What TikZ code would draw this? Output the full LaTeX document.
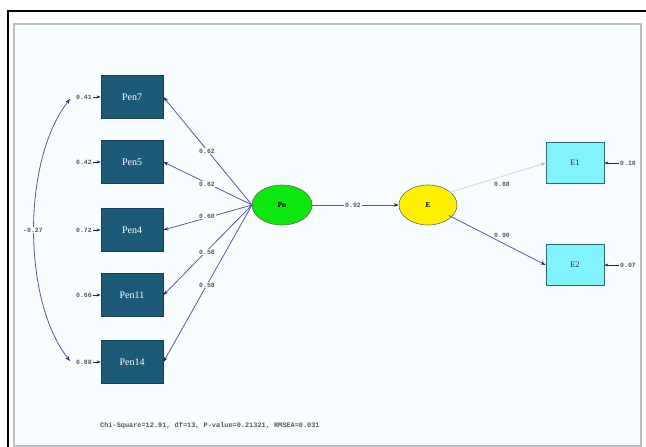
\documentclass[tikz,border=0pt]{standalone}
\usepackage{fontspec}
\setmainfont{Liberation Serif}
\newfontfamily\monof{Liberation Mono}
\usetikzlibrary{arrows.meta,shapes.geometric}
\definecolor{penfill}{HTML}{1D5A78}
\definecolor{penbord}{HTML}{143F57}
\definecolor{cyfill}{HTML}{80F4FA}
\definecolor{cybord}{HTML}{2F6878}
\definecolor{linec}{HTML}{5A5AA0}
\definecolor{tipc}{HTML}{1E1E6E}
\definecolor{lightl}{HTML}{E4D8DE}
\definecolor{bgc}{HTML}{F8FEFF}
\definecolor{framegray}{HTML}{B8C0C0}
\tikzset{
  penbox/.style={rectangle, draw=penbord, fill=penfill, line width=0.8pt, minimum width=62pt, minimum height=43pt, text=white, font=\fontsize{10}{11}\selectfont, inner sep=0pt},
  obsbox/.style={rectangle, draw=cybord, fill=cyfill, line width=0.8pt, minimum width=58pt, minimum height=41pt, text=black!80, font=\fontsize{8.5}{9}\selectfont, inner sep=0pt},
  latent/.style={ellipse, draw=black!60, line width=0.6pt, minimum width=60pt, minimum height=40pt, font=\bfseries\fontsize{7.5}{8}\selectfont, inner sep=0pt},
  numlab/.style={font=\monof\bfseries\fontsize{6.5}{7}\selectfont, text=black!65, inner sep=1pt},
  edgelab/.style={numlab, fill=bgc},
  path/.style={draw=linec, line width=0.8pt, -{Stealth[length=5pt,width=3.5pt,color=tipc]}},
  errarr/.style={draw=tipc, line width=0.9pt, -{Stealth[length=4pt,width=3pt]}},
}
\begin{document}
\begin{tikzpicture}[x=1pt,y=-1pt]
\useasboundingbox (0,0) rectangle (646,447);
\fill[white] (0,0) rectangle (646,447);
% frames
\fill[bgc] (14,24) rectangle (641,446);
\draw[framegray, line width=1.2pt] (14,446) -- (14,24) -- (641,24) -- (641,446) -- cycle;
\draw[black, line width=1.5pt] (8,447) -- (8,11) -- (646,11);

% indicator boxes
\node[penbox] (p7)  at (132,97)  {Pen7};
\node[penbox] (p5)  at (132,162) {Pen5};
\node[penbox] (p4)  at (132,230) {Pen4};
\node[penbox] (p11) at (132,295) {Pen11};
\node[penbox] (p14) at (132,362) {Pen14};

\node[latent, fill=green!90!black!95, minimum width=60pt] (pn) at (282,205) {Pn};
\node[latent, fill=yellow, minimum width=58pt] (e) at (428,205) {E};

\node[obsbox] (e1) at (575,163) {E1};
\node[obsbox] (e2) at (575,265) {E2};

% error labels left
\node[numlab] (r7)  at (84,97)  {0.41};
\node[numlab] (r5)  at (84,162) {0.42};
\node[numlab] (r4)  at (84,230) {0.72};
\node[numlab] (r11) at (84,295) {0.66};
\node[numlab] (r14) at (84,362) {0.88};
\foreach \a/\b in {r7/p7,r5/p5,r4/p4,r11/p11,r14/p14}
  \draw[errarr] (\a.east) -- (\b.west);

% error labels right
\node[numlab] (r1) at (628,163) {0.10};
\node[numlab] (r2) at (628,265) {0.07};
\draw[errarr] (r1.west) -- (e1.east);
\draw[errarr] (r2.west) -- (e2.east);

% covariance
\coordinate (c1) at (70,99);
\coordinate (c2) at (70,361);
\draw[draw=linec, line width=0.8pt, {Stealth[length=5pt,width=3.5pt,color=tipc]}-{Stealth[length=5pt,width=3.5pt,color=tipc]}]
  (c1) .. controls (22,160) and (22,300) .. (c2);
\node[edgelab] (cov) at (33,230) {-0.27};

% loadings
\coordinate (pnl) at (252,205);
\draw[path] (pnl) -- (p7.east);
\draw[path] (pnl) -- (p5.east);
\draw[path] (pnl) -- (p4.east);
\draw[path] (pnl) -- (p11.east);
\draw[path] (pnl) -- (p14.east);
\node[edgelab] (l7)  at (207,151) {0.62};
\node[edgelab] (l5)  at (207,184) {0.62};
\node[edgelab] (l4)  at (207,216) {0.60};
\node[edgelab] (l11) at (207,252) {0.58};
\node[edgelab] (l14) at (207,285) {0.58};

% structural
\draw[path] (pn.east) -- (e.west);
\node[edgelab] (s1) at (353,205) {0.92};

% E indicators
\draw[draw=lightl, line width=1pt, -{Stealth[length=5pt,width=3.5pt,color=lightl!80!black]}] (e.north east) ++(0,2) -- (e1.west);
\draw[path] (e.south east) ++(0,-4) -- (e2.west);
\node[edgelab] (m1) at (502,184) {0.88};
\node[edgelab] (m2) at (502,235) {0.90};

% fit statistics
\node[numlab, anchor=west, font=\monof\bfseries\fontsize{6.9}{8}\selectfont] (fit) at (99,426) {Chi-Square=12.91, df=13, P-value=0.21321, RMSEA=0.031};
\end{tikzpicture}
\end{document}
